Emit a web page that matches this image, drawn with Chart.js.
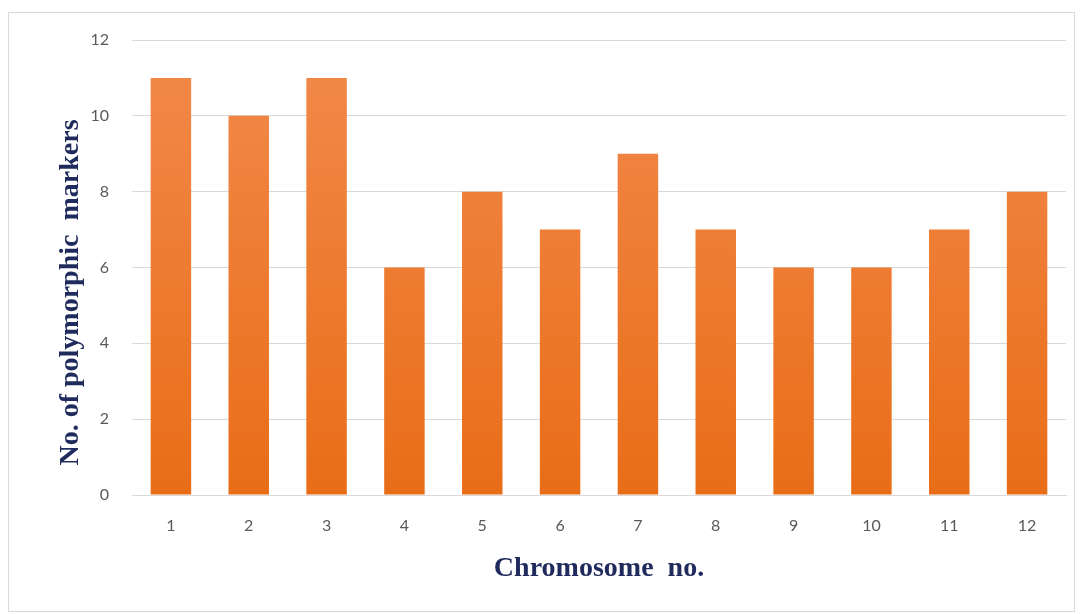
<!DOCTYPE html>
<html>
<head>
<meta charset="utf-8">
<script src="https://cdn.jsdelivr.net/npm/chart.js@4/dist/chart.umd.min.js"></script>
<style>
  html, body { margin: 0; padding: 0; background: #fff; }
  #frame { position: absolute; left: 8px; top: 12px; width: 1067px; height: 600px; border: 1px solid #d9d9d9; box-sizing: border-box; }
  #wrap { position: absolute; left: 0; top: 0; width: 1081px; height: 614px; }
</style>
</head>
<body>
<div id="frame"></div>
<div id="wrap"><canvas id="chart"></canvas></div>
<script>
// chromosome numbers and polymorphic marker counts
const chromosomes = ["1", "2", "3", "4", "5", "6", "7", "8", "9", "10", "11", "12"];
const markers = [11, 10, 11, 6, 8, 7, 9, 7, 6, 6, 7, 8];
const yTicks = [0, 2, 4, 6, 8, 10, 12];
const yTitle = "No. of polymorphic  markers";

const ctx = document.getElementById("chart").getContext("2d");

function barGradient(context) {
    const chart = context.chart;
    const area = chart.chartArea;
    if (!area) return "#ee7a33";
    const g = chart.ctx.createLinearGradient(0, area.top, 0, area.bottom);
    g.addColorStop(0, "#f28a4c");
    g.addColorStop(1, "#e96d17");
    return g;
}

// y title sits a bit below the plot centre in the original, so draw it by hand
const yTitlePlugin = {
    id: "yTitle",
    afterDraw(chart) {
        const c = chart.ctx;
        const mid = (chart.chartArea.top + chart.chartArea.bottom) / 2 + 25;
        c.save();
        c.translate(71, mid);
        c.rotate(-Math.PI / 2);
        c.font = "bold 28px 'Liberation Serif'";
        c.fillStyle = "#1f2b5c";
        c.textAlign = "center";
        c.textBaseline = "middle";
        c.fillText(yTitle, 0, 0);
        c.restore();
    },
};

new Chart(ctx, {
    type: "bar",
    data: {
        labels: chromosomes,
        datasets: [{
            data: markers,
            backgroundColor: barGradient,
            borderWidth: 0,
            barPercentage: 0.52,
            categoryPercentage: 1.0,
        }],
    },
    plugins: [yTitlePlugin],
    options: {
        responsive: true,
        maintainAspectRatio: false,
        animation: false,
        layout: { padding: { left: 0, right: 15, top: 40, bottom: 0 } },
        plugins: { legend: { display: false }, tooltip: { enabled: false } },
        scales: {
            x: {
                grid: { display: false },
                border: { color: "#d9d9d9" },
                ticks: { color: "#595959", font: { family: "Lato", size: 16 }, padding: 13 },
                title: {
                    display: true,
                    text: "Chromosome  no.",
                    color: "#1f2b5c",
                    font: { family: "Liberation Serif", size: 28, weight: "bold" },
                    padding: { top: 0, bottom: 28 },
                },
                afterFit: (scale) => { scale.height = 119; },
            },
            y: {
                min: 0,
                max: 12,
                afterBuildTicks: (scale) => { scale.ticks = yTicks.map(v => ({ value: v })); },
                grid: { color: "#d9d9d9", drawTicks: false },
                border: { display: false },
                ticks: { color: "#595959", font: { family: "Lato", size: 16 }, padding: 23 },
                afterFit: (scale) => { scale.width = 132; },
            },
        },
    },
});
</script>
</body>
</html>
